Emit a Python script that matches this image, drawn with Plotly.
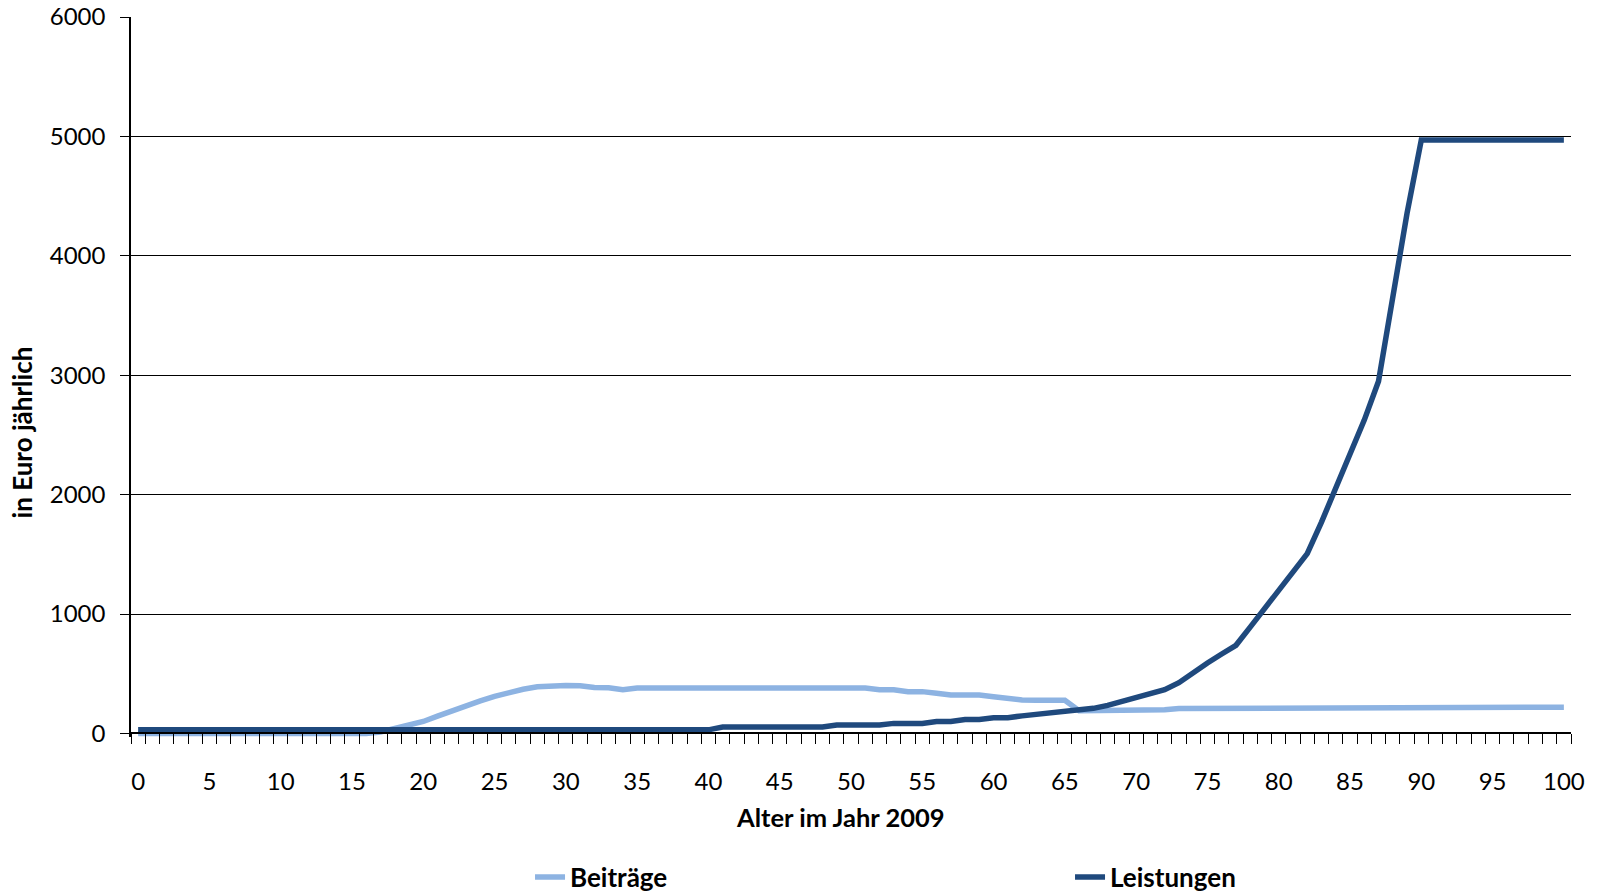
import plotly.graph_objects as go

# Alter im Jahr 2009 (Kategorien 0..100)
ALTER = list(range(101))

# Beiträge in Euro jährlich je Altersjahr
BEITRAEGE = [
    0, 0, 0, 0, 0, 0, 0, 0, 0, 0,            # 0-9
    0, 0, 0, 0, 0, 0, 0, 12, 42, 70,         # 10-19
    100, 145, 190, 235, 272, 310, 345, 370, 390, 400,  # 20-29
    402, 400, 385, 383, 365, 380, 380, 380, 380, 380,  # 30-39
    380, 380, 380, 380, 380, 380, 380, 380, 380, 380,  # 40-49
    380, 380, 366, 366, 350, 350, 336, 321, 321, 321,  # 50-59
    307, 293, 280, 277, 277, 277, 190, 190, 198, 198,  # 60-69
    198, 198, 198, 209, 209, 209, 209, 209, 209, 220,  # 70-79
    220, 220, 220, 220, 220, 220, 220, 220, 220, 220,  # 80-89
    220, 220, 220, 220, 220, 220, 220, 220, 220, 220,  # 90-99
    220,                                             # 100
]

# Leistungen in Euro jährlich je Altersjahr
LEISTUNGEN = [
    30, 30, 30, 30, 30, 30, 30, 30, 30, 30,            # 0-9
    30, 30, 30, 30, 30, 30, 30, 30, 30, 30,            # 10-19
    30, 30, 30, 30, 30, 30, 30, 30, 30, 30,            # 20-29
    30, 30, 30, 30, 30, 30, 30, 30, 30, 30,            # 30-39
    30, 53, 53, 53, 53, 53, 53, 53, 53, 70,            # 40-49
    70, 70, 70, 84, 84, 84, 100, 100, 117, 117,        # 50-59
    132, 132, 147, 160, 172, 185, 197, 210, 235, 265,  # 60-69
    297, 332, 366, 425, 510, 590, 665, 738, 890, 1040, # 70-79
    1190, 1345, 1506, 1770, 2060, 2340, 2624, 2950, 3650, 4356,  # 80-89
    4970, 4970, 4970, 4970, 4970, 4970, 4970, 4970, 4970, 4970,  # 90-99
    4970,                                                        # 100
]

X_TICKS = list(range(0, 101, 5))
X_TICKTEXT = [str(v) for v in X_TICKS]
Y_TICKS = [0, 1000, 2000, 3000, 4000, 5000, 6000]

FONT = "Lato"
LIGHT = "#8DB3E2"
DARK = "#1F497D"

Y_MIN = -30
Y_MAX = 6000

fig = go.Figure()
fig.add_trace(go.Scatter(
    x=ALTER, y=BEITRAEGE, name="Beiträge", mode="lines",
    line=dict(color=LIGHT, width=5.5),
))
fig.add_trace(go.Scatter(
    x=ALTER, y=LEISTUNGEN, name="Leistungen", mode="lines",
    line=dict(color=DARK, width=5.5),
))

fig.update_layout(
    width=1598, height=892,
    margin=dict(l=131, r=27, t=17, b=155, autoexpand=False),
    paper_bgcolor="white", plot_bgcolor="white",
    font=dict(family=FONT, color="black", size=24),
    showlegend=True,
    legend=dict(
        orientation="h",
        x=0.2771, xanchor="left",
        y=-0.1945, yanchor="middle",
        entrywidth=495, entrywidthmode="pixels",
        font=dict(family=FONT, size=26, color="black", weight="bold"),
        bgcolor="rgba(0,0,0,0)",
    ),
    xaxis=dict(
        range=[-0.5, 100.5],
        anchor="free", position=(0 - Y_MIN) / (Y_MAX - Y_MIN),
        tickmode="array", tickvals=X_TICKS, ticktext=X_TICKTEXT,
        ticks="outside", ticklen=10, tickcolor="rgba(0,0,0,0)",
        ticklabelstandoff=17,
        tickfont=dict(family=FONT, size=24, color="black"),
        showline=True, linecolor="black", linewidth=1.5,
        showgrid=False, zeroline=False,
        minor=dict(ticks="outside", ticklen=10, tickcolor="black",
                   tickwidth=1, tickmode="linear", tick0=-0.5, dtick=1,
                   showgrid=False),
    ),
    yaxis=dict(
        range=[Y_MIN, Y_MAX],
        tickmode="array", tickvals=Y_TICKS,
        ticks="outside", ticklen=9, tickcolor="black", tickwidth=1,
        ticklabelstandoff=10,
        tickfont=dict(family=FONT, size=24, color="black"),
        showline=True, linecolor="black", linewidth=1.5,
        showgrid=True, gridcolor="black", gridwidth=1,
        zeroline=False,
    ),
    annotations=[
        dict(text="Alter im Jahr 2009", xref="paper", yref="paper",
             x=0.493, y=-0.1118, xanchor="center", yanchor="middle",
             showarrow=False,
             font=dict(family=FONT, size=25.5, color="black", weight="bold")),
        dict(text="in Euro jährlich", xref="paper", yref="paper",
             x=-0.076, y=0.4224, xanchor="center", yanchor="middle",
             textangle=-90, showarrow=False,
             font=dict(family=FONT, size=26, color="black", weight="bold")),
    ],
)

fig.write_html("out.html")
